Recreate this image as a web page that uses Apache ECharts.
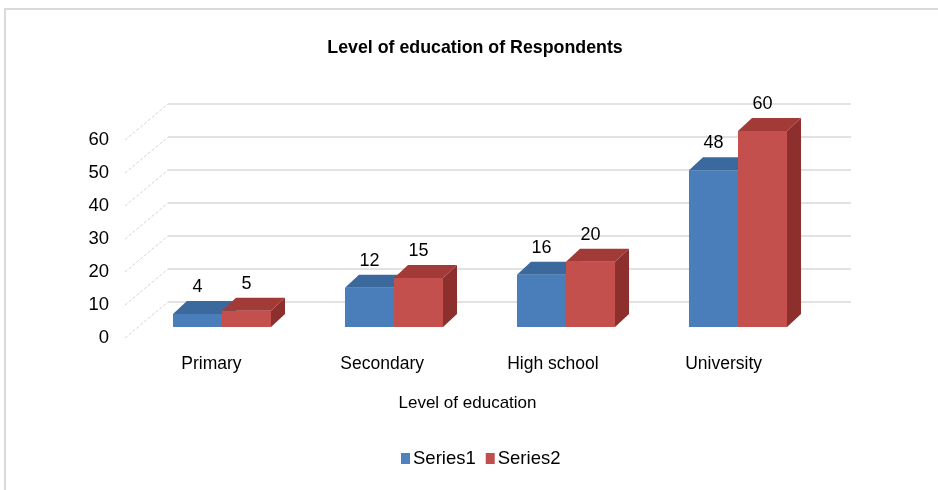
<!DOCTYPE html>
<html>
<head>
<meta charset="utf-8">
<script src="https://cdn.jsdelivr.net/npm/echarts@6/dist/echarts.min.js"></script>
<style>
  html, body { margin: 0; padding: 0; background: #ffffff; }
  #chart { width: 938px; height: 490px; }
</style>
</head>
<body>
<div id="chart"></div>
<script>
// Data
const CATEGORIES = ['Primary', 'Secondary', 'High school', 'University'];
const SERIES1 = [4, 12, 16, 48];
const SERIES2 = [5, 15, 20, 60];
const SERIES_NAMES = ['Series1', 'Series2'];
const Y_TICKS = [0, 10, 20, 30, 40, 50, 60];

// Oblique projection settings
const WALL_TO_FRONT = [-43, 36];   // offset from back wall to front (label) plane
const BAR_DEPTH = [14, -13];       // depth of each bar block
const BAR_FRAC = 0.285;            // bar width as a share of the category band

const FONT = 'Liberation Sans, Arial, sans-serif';
const COLORS = {
  s1: { front: '#4a7ebb', top: '#3b689d', side: '#345d8d', legend: '#4f81bd' },
  s2: { front: '#c4504d', top: '#a23b38', side: '#8c2f2d', legend: '#c0504d' }
};

const chart = echarts.init(document.getElementById('chart'), null, { renderer: 'canvas' });

function barRenderer(seriesIdx, pal) {
  return function (params, api) {
    const cat = api.value(0);
    const val = api.value(1);
    const base = api.coord([cat, 0]);
    const top = api.coord([cat, val]);
    const band = api.size([1, 0])[0];
    const w = band * BAR_FRAC;
    const x0 = base[0] + (seriesIdx === 0 ? -w : 0);
    const x1 = x0 + w;
    const yb = base[1];
    const yt = top[1];
    const dx = BAR_DEPTH[0], dy = BAR_DEPTH[1];
    return {
      type: 'group',
      children: [
        { type: 'polygon', shape: { points: [[x1, yt], [x1 + dx, yt + dy], [x1 + dx, yb + dy], [x1, yb]] },
          style: { fill: pal.side } },
        { type: 'rect', shape: { x: x0, y: yt, width: w, height: yb - yt },
          style: { fill: pal.front } },
        { type: 'polygon', shape: { points: [[x0, yt], [x1, yt], [x1 + dx, yt + dy], [x0 + dx, yt + dy]] },
          style: { fill: pal.top } },
        { type: 'text', x: (x0 + x1) / 2, y: yt + dy - 14,
          style: { text: String(val), fill: '#000', font: '18px ' + FONT, align: 'center', verticalAlign: 'middle' } }
      ]
    };
  };
}

const option = {
  backgroundColor: '#ffffff',
  animation: false,
  title: {
    text: 'Level of education of Respondents',
    left: 470, top: 34, textAlign: 'center',
    textStyle: { fontFamily: FONT, fontSize: 17.8, fontWeight: 'bold', color: '#000' }
  },
  legend: {
    data: SERIES_NAMES,
    left: 396, top: 444,
    icon: 'rect', itemWidth: 9, itemHeight: 11, itemGap: 10,
    textStyle: { fontFamily: FONT, fontSize: 18.5, color: '#000', padding: [0, 0, 0, -2] }
  },
  graphic: [
    { type: 'rect', shape: { x: 5, y: 9, width: 1000, height: 1000 },
      style: { fill: 'none', stroke: '#d9d9d9', lineWidth: 2 }, silent: true }
  ],
  grid: [
    // back wall
    { left: 168, top: 104, width: 683, height: 198 },
    // front plane (axis labels)
    { left: 126, top: 140, width: 683, height: 198 },
    // bar plane
    { left: 136, top: 131, width: 688, height: 196 }
  ],
  xAxis: [
    { gridIndex: 0, type: 'category', data: CATEGORIES, show: false },
    { gridIndex: 1, type: 'category', data: CATEGORIES,
      axisLine: { show: false }, axisTick: { show: false },
      axisLabel: { fontFamily: FONT, fontSize: 17.5, color: '#000', margin: 17 },
      name: 'Level of education', nameLocation: 'middle', nameGap: 57,
      nameTextStyle: { fontFamily: FONT, fontSize: 17, color: '#000' } },
    { gridIndex: 2, type: 'category', data: CATEGORIES, show: false }
  ],
  yAxis: [
    { gridIndex: 0, type: 'value', min: 0, max: 60, interval: 10,
      axisLine: { show: false }, axisTick: { show: false }, axisLabel: { show: false },
      splitLine: { show: true, lineStyle: { color: '#d9d9d9', width: 1.5 } } },
    { gridIndex: 1, type: 'value', min: 0, max: 60, interval: 10,
      axisLine: { show: false }, axisTick: { show: false }, splitLine: { show: false },
      axisLabel: { fontFamily: FONT, fontSize: 18.5, color: '#000', margin: 17 } },
    { gridIndex: 2, type: 'value', min: 0, max: 60, interval: 10, show: false,
      splitLine: { show: false } }
  ],
  series: [
    {
      type: 'custom', name: 'depth', xAxisIndex: 0, yAxisIndex: 0, silent: true,
      data: Y_TICKS.map(v => [0, v]),
      renderItem: function (params, api) {
        const bx = params.coordSys.x;
        const by = api.coord([0, api.value(1)])[1];
        return {
          type: 'line',
          shape: { x1: bx + WALL_TO_FRONT[0], y1: by + WALL_TO_FRONT[1], x2: bx, y2: by },
          style: { stroke: '#d4d4d4', lineWidth: 1, lineDash: [3, 2] }
        };
      }
    },
    {
      type: 'custom', name: SERIES_NAMES[0], xAxisIndex: 2, yAxisIndex: 2,
      itemStyle: { color: COLORS.s1.legend },
      data: CATEGORIES.map((c, i) => [i, SERIES1[i]]),
      renderItem: barRenderer(0, COLORS.s1)
    },
    {
      type: 'custom', name: SERIES_NAMES[1], xAxisIndex: 2, yAxisIndex: 2,
      itemStyle: { color: COLORS.s2.legend },
      data: CATEGORIES.map((c, i) => [i, SERIES2[i]]),
      renderItem: barRenderer(1, COLORS.s2)
    }
  ]
};

chart.setOption(option);
</script>
</body>
</html>
